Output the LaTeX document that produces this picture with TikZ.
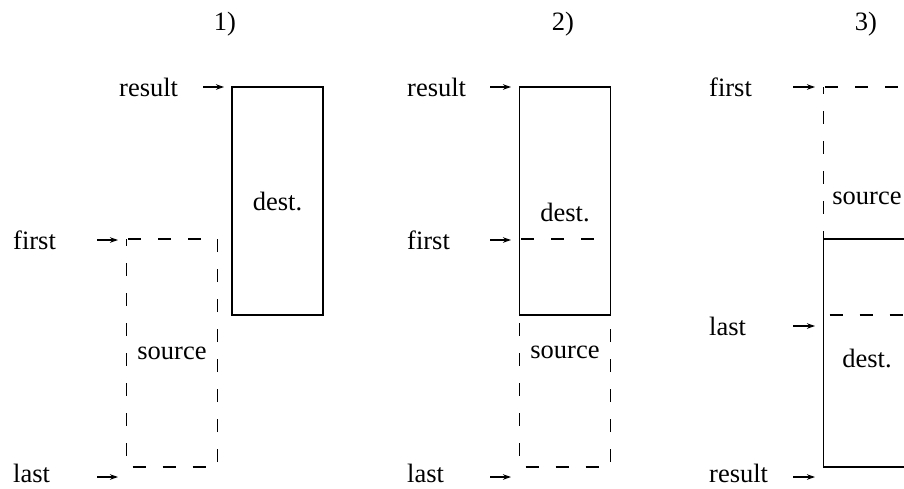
\documentclass[tikz,border=0pt]{standalone}
\usepackage{fontspec}
\setmainfont{Liberation Serif}
\usetikzlibrary{arrows.meta}
\begin{document}
\begin{tikzpicture}[x=1pt,y=-1pt,
  font=\fontsize{26.5}{30}\selectfont,
  box/.style={line width=1.1pt, minimum width=91pt, minimum height=228pt, inner sep=0pt, outer sep=0pt},
  solidbox/.style={box, draw},
  dashbox/.style={box},
  dashline/.style={line width=1.1pt, dash pattern=on 13pt off 17pt, dash phase=6pt},
  txt/.style={inner sep=0pt},
  lbl/.style={anchor=west, inner sep=0pt},
  ptr/.style={line width=1.1pt, -{Stealth[length=8pt,width=5.5pt]}},
  hdr/.style={anchor=base, inner sep=0pt}]
\useasboundingbox (0,0) rectangle (904,488);
\clip (0,0) rectangle (904,488);

% ---------- panel 1 ----------
\node[hdr] (h1) at (225,30) {1)};
\node[solidbox] (d1) at (277.5,201) {dest.};
\node[dashbox] (s1) at (172,353) {source};
\draw[dashline] (s1.north west) -- (s1.south west) -- (s1.south east) -- (s1.north east) -- cycle;
\node[lbl] (r1) at (119,87) {result};
\node[lbl] (f1) at (13,240) {first};
\node[lbl] (l1) at (13,473) {last};
\coordinate (r1a) at (203,87);  \coordinate (r1b) at (224,87);
\coordinate (f1a) at (97,240);  \coordinate (f1b) at (118,240);
\coordinate (l1a) at (97,477);  \coordinate (l1b) at (118,477);
\draw[ptr] (r1a) -- (r1b);
\draw[ptr] (f1a) -- (f1b);
\draw[ptr] (l1a) -- (l1b);

% ---------- panel 2 ----------
\node[hdr] (h2) at (563,30) {2)};
\node[solidbox] (d2) at (565,201) {};
\node[dashbox] (s2) at (565,353) {};
\draw[dashline] (s2.north west) -- (s2.south west) -- (s2.south east) -- (s2.north east) -- cycle;
\node[txt] (d2t) at (565,212) {dest.};
\node[txt] (s2t) at (565,352) {source};
\node[lbl] (r2) at (407,87) {result};
\node[lbl] (f2) at (407,240) {first};
\node[lbl] (l2) at (407,473) {last};
\coordinate (r2a) at (490,87);  \coordinate (r2b) at (511,87);
\coordinate (f2a) at (490,240); \coordinate (f2b) at (511,240);
\coordinate (l2a) at (490,477); \coordinate (l2b) at (511,477);
\draw[ptr] (r2a) -- (r2b);
\draw[ptr] (f2a) -- (f2b);
\draw[ptr] (l2a) -- (l2b);

% ---------- panel 3 ----------
\node[hdr] (h3) at (866,30) {3)};
\node[solidbox] (d3) at (869,353) {};
\node[dashbox] (s3) at (869,201) {};
\draw[dashline] (s3.north west) -- (s3.south west) -- (s3.south east) -- (s3.north east) -- cycle;
\node[txt] (s3t) at (867,198) {source};
\node[txt] (d3t) at (867,358) {dest.};
\node[lbl] (f3) at (709,87) {first};
\node[lbl] (l3) at (709,326) {last};
\node[lbl] (r3) at (709,473) {result};
\coordinate (f3a) at (793,87);  \coordinate (f3b) at (815,87);
\coordinate (l3a) at (793,326); \coordinate (l3b) at (815,326);
\coordinate (r3a) at (793,477); \coordinate (r3b) at (815,477);
\draw[ptr] (f3a) -- (f3b);
\draw[ptr] (l3a) -- (l3b);
\draw[ptr] (r3a) -- (r3b);
\end{tikzpicture}
\end{document}
